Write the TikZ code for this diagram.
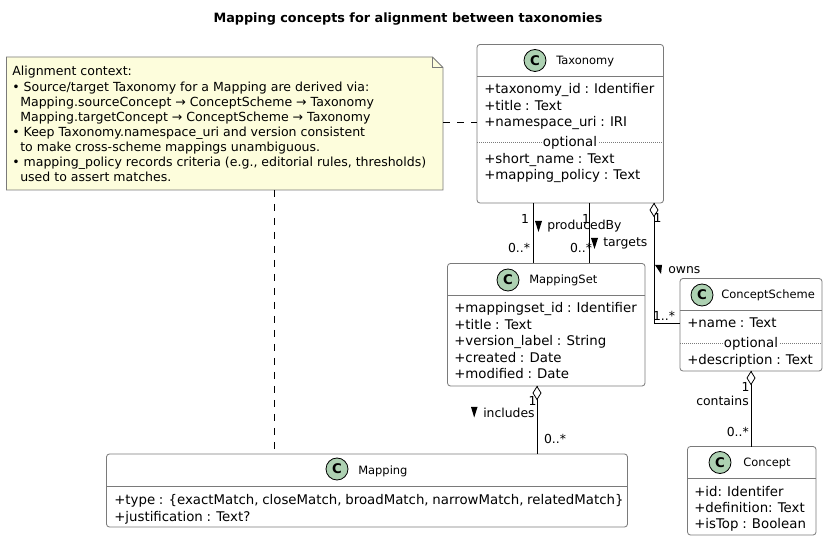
\documentclass[tikz,border=0pt]{standalone}
\usepackage{fontspec}
\setmainfont{DejaVu Sans}
\newfontfamily\attrfam[WordSpace=0.88]{DejaVu Sans}
\usetikzlibrary{calc}
\definecolor{boxline}{HTML}{7A7A7A}
\definecolor{notefill}{HTML}{FDFDDC}
\definecolor{spot}{HTML}{ADD1B2}
\tikzset{
  x=0.75pt,y=-0.75pt,
  classbox/.style={draw=boxline,fill=white,rounded corners=2.2pt,line width=0.6pt,inner sep=0,outer sep=0,anchor=north west},
  spotc/.style={circle,draw=black,fill=spot,line width=0.6pt,minimum size=16.5pt,inner sep=0,font=\fontsize{10}{10}\selectfont\bfseries},
  cname/.style={anchor=base west,inner sep=0,font=\fontsize{8.6}{10}\selectfont},
  attr/.style={anchor=base west,inner sep=0,font=\attrfam\fontsize{10}{12}\selectfont},
  optlbl/.style={anchor=base,inner sep=0,fill=white,inner xsep=1pt,font=\fontsize{10}{12}\selectfont},
  notetext/.style={anchor=base west,inner sep=0,font=\fontsize{9.4}{11}\selectfont},
  lbl/.style={anchor=base,inner sep=0,font=\fontsize{9.3}{11}\selectfont},
  conn/.style={draw=black,line width=0.75pt},
  dashconn/.style={draw=black,line width=0.75pt,dash pattern=on 5.25pt off 5.25pt},
  sep/.style={draw=boxline,line width=0.6pt},
  dotsep/.style={draw=boxline,line width=0.6pt,dash pattern=on 0.75pt off 0.75pt},
  diam/.style={draw=black,fill=white,line width=0.6pt},
}
\begin{document}
\begin{tikzpicture}
\useasboundingbox (0,0) rectangle (828,541);
\fill[white] (0,0) rectangle (828,541);
\node[anchor=base,inner sep=0,font=\fontsize{9.6}{12}\selectfont\bfseries] (title) at (408,23) {Mapping concepts for alignment between taxonomies};

% boxes
\node[classbox,minimum width=186.5*0.75pt,minimum height=158.5*0.75pt] (tax) at (477,44.5) {};
\node[classbox,minimum width=197.5*0.75pt,minimum height=122.5*0.75pt] (ms) at (447.5,263.5) {};
\node[classbox,minimum width=142*0.75pt,minimum height=92.5*0.75pt] (cs) at (680,278.5) {};
\node[classbox,minimum width=128.5*0.75pt,minimum height=88.5*0.75pt] (con) at (687.5,446.5) {};
\node[classbox,minimum width=521*0.75pt,minimum height=73*0.75pt] (map) at (106.5,454) {};
% note
\coordinate (noteSE) at (443,190);
\draw[draw=boxline,fill=notefill,line width=0.6pt] (6.5,57) -- (432.5,57) -- (443,67.5) -- (443,190) -- (6.5,190) -- cycle;
\draw[draw=boxline,line width=0.6pt] (432.5,57) -- (432.5,67.5) -- (443,67.5);

% Taxonomy
\draw[sep] (477,76.5) -- (663.5,76.5);
\node[spotc] at (535,60.5) {C};
\node[cname] at (556,65) {Taxonomy};
\node[attr] at (484,94) {+taxonomy\_id : Identifier};
\node[attr] at (484,111) {+title : Text};
\node[attr] at (484,127) {+namespace\_uri : IRI};
\draw[dotsep] (477,142) -- (663.5,142);
\node[optlbl] at (570,147) {optional};
\node[attr] at (484,164) {+short\_name : Text};
\node[attr] at (484,180) {+mapping\_policy : Text};

% MappingSet
\draw[sep] (447.5,295) -- (645,295);
\node[spotc] at (508,280) {C};
\node[cname] at (529,284) {MappingSet};
\node[attr] at (454,313) {+mappingset\_id : Identifier};
\node[attr] at (454,330) {+title : Text};
\node[attr] at (454,346) {+version\_label : String};
\node[attr] at (454,363) {+created : Date};
\node[attr] at (454,379) {+modified : Date};

% ConceptScheme
\draw[sep] (680,310.5) -- (822,310.5);
\node[spotc] at (702,295) {C};
\node[cname] at (721,299) {ConceptScheme};
\node[attr] at (687,328) {+name : Text};
\draw[dotsep] (680,343) -- (822,343);
\node[optlbl] at (751,348) {optional};
\node[attr] at (687,365) {+description : Text};

% Concept
\draw[sep] (687.5,478) -- (816,478);
\node[spotc] at (720,462.5) {C};
\node[cname] at (743,466.5) {Concept};
\node[attr] at (694,496) {+id: Identifer};
\node[attr] at (694,512) {+definition: Text};
\node[attr] at (694,528) {+isTop : Boolean};

% Mapping
\draw[sep] (106.5,486.5) -- (627.5,486.5);
\node[spotc] at (337,469) {C};
\node[cname] at (358,474) {Mapping};
\node[attr] at (114,504) {+type : \{exactMatch, closeMatch, broadMatch, narrowMatch, relatedMatch\}};
\node[attr] at (114,521) {+justification : Text?};

% note text
\node[notetext] at (12,76) {Alignment context:};
\node[notetext] at (12,91.5) {• Source/target Taxonomy for a Mapping are derived via:};
\node[notetext] at (20,106.5) {Mapping.sourceConcept → ConceptScheme → Taxonomy};
\node[notetext] at (20,121.5) {Mapping.targetConcept → ConceptScheme → Taxonomy};
\node[notetext] at (12,137) {• Keep Taxonomy.namespace\_uri and version consistent};
\node[notetext] at (20,152) {to make cross-scheme mappings unambiguous.};
\node[notetext] at (12,167) {• mapping\_policy records criteria (e.g., editorial rules, thresholds)};
\node[notetext] at (20,182) {used to assert matches.};

% connectors
\draw[dashconn] (noteSE |- 0,123) -- (tax.west |- 0,123);
\draw[dashconn] (274,0 |- noteSE) -- (274,0 |- map.north);
\draw[conn] (533,0 |- tax.south) -- (533,0 |- ms.north);
\draw[conn] (589,0 |- tax.south) -- (589,0 |- ms.north);
\draw[conn] (654,0 |- tax.south) -- (654,324) -- (cs.west |- 0,324);
\draw[conn] (537,0 |- ms.south) -- (537,0 |- map.north);
\draw[conn] (751,0 |- cs.south) -- (751,0 |- con.north);

% diamonds
\draw[diam] (654,203.5) -- (658,210) -- (654,216.5) -- (650,210) -- cycle;
\draw[diam] (537,386.5) -- (541,393) -- (537,399.5) -- (533,393) -- cycle;
\draw[diam] (751,371.5) -- (755,378) -- (751,384.5) -- (747,378) -- cycle;

% direction triangles
\fill[black] (535,221) -- (542,221) -- (538.5,232) -- cycle;
\fill[black] (591,238) -- (598,238) -- (594.5,249) -- cycle;
\fill[black] (655,265) -- (662,265) -- (661,274) -- cycle;
\fill[black] (471,407) -- (477.5,407) -- (474.2,417.5) -- cycle;

% labels
\node[lbl] at (525,224) {1};
\node[lbl] at (519,253) {0..*};
\node[lbl] at (586,224) {1};
\node[lbl] at (581,253) {0..*};
\node[lbl] at (657.5,223) {1};
\node[lbl] at (664,321) {1..*};
\node[lbl,anchor=base west] at (547,230) {producedBy};
\node[lbl,anchor=base west] at (603,247) {targets};
\node[lbl,anchor=base west] at (668,274) {owns};
\node[lbl,anchor=base west] at (483,417) {includes};
\node[lbl] at (532.5,406) {1};
\node[lbl] at (555,443) {0..*};
\node[lbl] at (745.5,392) {1};
\node[lbl,anchor=base east] at (749,406) {contains};
\node[lbl,anchor=base east] at (749,436) {0..*};
\end{tikzpicture}
\end{document}
